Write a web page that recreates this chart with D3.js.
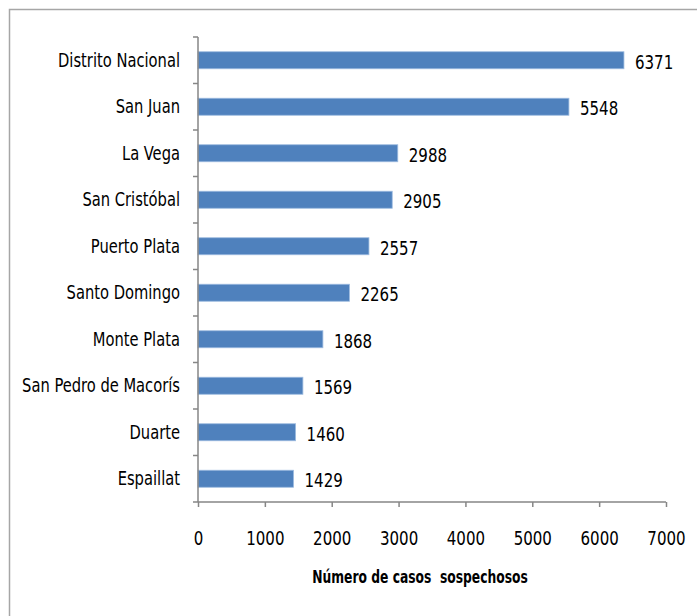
<html>
<meta charset="utf-8" />
<head>
<title>Casos sospechosos por provincia</title>
<script src="https://cdn.jsdelivr.net/npm/d3@7"></script>
<style>
	body { margin: 0; background: #fff; }
	text { font-family: "Liberation Sans Narrow", "DejaVu Sans Condensed", sans-serif; fill: #000; }
</style>
<script>
// data
const provincias = ['Distrito Nacional', 'San Juan ', 'La Vega', 'San Cristóbal', 'Puerto Plata',
	'Santo Domingo', 'Monte Plata', 'San Pedro de Macorís', 'Duarte', 'Espaillat'];
const casos = [6371, 5548, 2988, 2905, 2557, 2265, 1868, 1569, 1460, 1429];
const ticksX = [0, 1000, 2000, 3000, 4000, 5000, 6000, 7000];
const tituloX = 'Número de casos  sospechosos';

// narrow the text a bit, the original font is narrower than what we have
function squeeze(sel, k) {
	sel.each(function() {
		let w = this.getComputedTextLength();
		d3.select(this).attr('textLength', w * k).attr('lengthAdjust', 'spacingAndGlyphs');
	});
}

window.onload = function() {
	let svg = d3.select('svg');

	// outer frame, only left and top edges inside the window
	svg.append('rect')
		.attr('x', 9.5).attr('y', 9.5)
		.attr('width', 900).attr('height', 900)
		.style('fill', 'none')
		.style('stroke', '#a6a6a6')
		.style('stroke-width', '1.5px');

	let x = d3.scaleLinear().domain([0, 7000]).range([198, 666]);
	let y = d3.scaleBand().domain(provincias).range([37, 502]).paddingInner(0.634).paddingOuter(0.317);

	let g = svg.append('g');

	g.selectAll('rect.bar')
		.data(casos)
		.enter()
		.append('rect')
		.attr('class', 'bar')
		.attr('x', x(0))
		.attr('y', (d, i) => y(provincias[i]))
		.attr('width', (d) => x(d) - x(0))
		.attr('height', y.bandwidth())
		.style('fill', '#4f81bd')
		.style('stroke', '#9dbbe0')
		.style('stroke-width', '0.8px');

	g.selectAll('text.val')
		.data(casos)
		.enter()
		.append('text')
		.attr('class', 'val')
		.attr('x', (d) => x(d) + 11)
		.attr('y', (d, i) => y(provincias[i]) + y.bandwidth() / 2 + 3)
		.attr('dominant-baseline', 'middle')
		.style('font-size', '19px')
		.text((d) => d)
		.call(squeeze, 0.88);

	// x axis
	let xAxis = d3.axisBottom(x).tickValues(ticksX).tickSize(5).tickSizeOuter(0).tickPadding(25).tickFormat(d3.format('d'));
	let ax = svg.append('g').attr('transform', 'translate(0,502)').call(xAxis);
	ax.selectAll('path, line').style('stroke', '#868686').style('stroke-width', '1.5px');
	ax.selectAll('text').style('font-size', '19px').style('font-family', null).call(squeeze, 0.88);
	ax.select('.domain').attr('d', 'M193,0H666');

	// y axis with ticks between bands
	let ay = svg.append('g');
	ay.append('line')
		.attr('x1', x(0)).attr('x2', x(0))
		.attr('y1', 37).attr('y2', 502)
		.style('stroke', '#868686').style('stroke-width', '1.5px');
	let bounds = provincias.map((p) => y(p) - y.step() * y.paddingInner() / 2);
	ay.selectAll('line.tk')
		.data(bounds)
		.enter()
		.append('line')
		.attr('class', 'tk')
		.attr('x1', x(0) - 5).attr('x2', x(0))
		.attr('y1', (d) => d).attr('y2', (d) => d)
		.style('stroke', '#868686').style('stroke-width', '1.5px');
	ay.selectAll('text')
		.data(provincias)
		.enter()
		.append('text')
		.attr('x', 180)
		.attr('y', (d) => y(d) + y.bandwidth() / 2 + 1)
		.attr('text-anchor', 'end')
		.attr('dominant-baseline', 'middle')
		.style('font-size', '19px')
		.text((d) => d)
		.call(squeeze, 0.86);

	svg.append('text')
		.attr('x', 420).attr('y', 578)
		.attr('text-anchor', 'middle')
		.attr('dominant-baseline', 'middle')
		.style('font-size', '18px')
		.style('font-weight', 'bold')
		.style('white-space', 'pre')
		.attr('xml:space', 'preserve')
		.text(tituloX)
		.call(squeeze, 0.76);
}
</script>
</head>
<body>
<svg style="width:697px; height:616px; display:block" width="697" height="616"></svg>
</body>
</html>
